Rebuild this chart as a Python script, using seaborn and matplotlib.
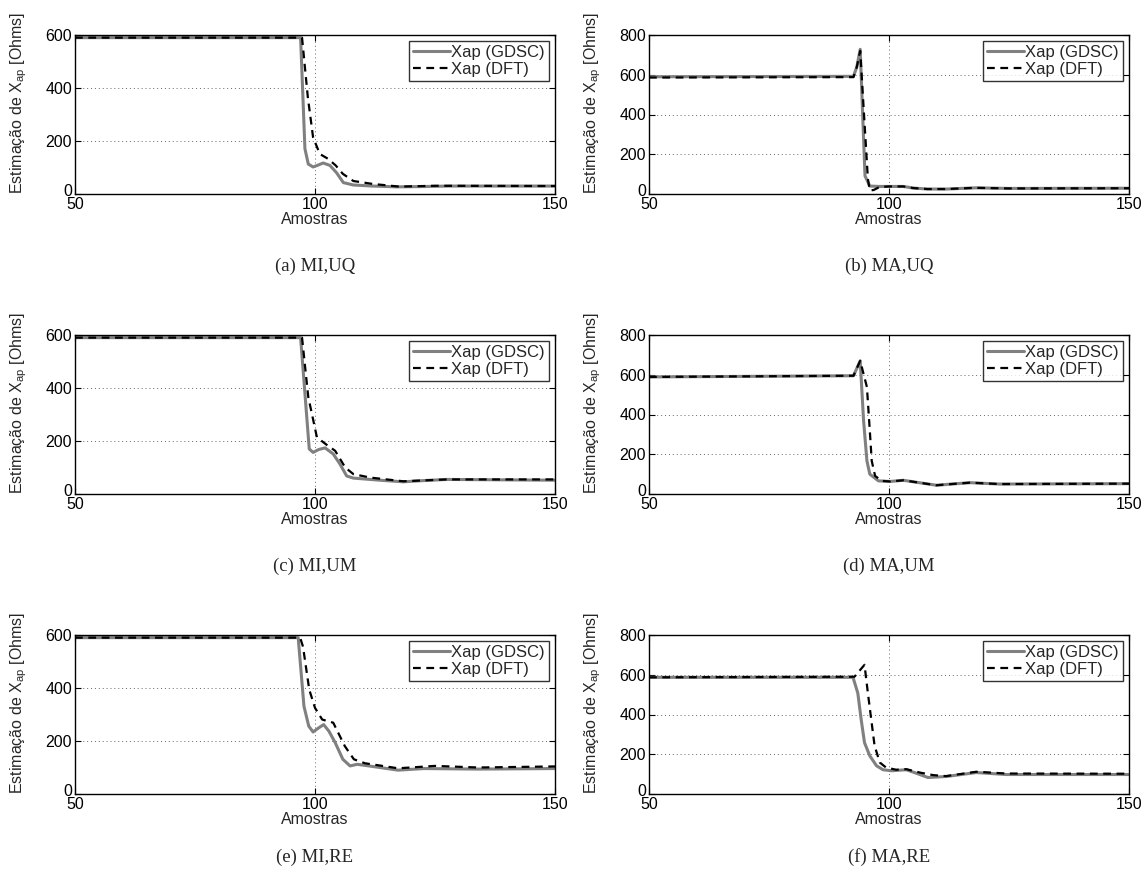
import matplotlib
matplotlib.use("Agg")
import matplotlib.pyplot as plt
import matplotlib.transforms as mtransforms
import seaborn as sns

# ---- data: estimated X_ap (Ohms) versus sample index ----
a_gdsc_x = [50, 97, 97.9, 98.6, 99.6, 100.5, 101.7, 103.1, 104.5, 105.9, 108, 112, 117, 122, 128, 150]
a_gdsc_y = [590, 590, 171, 113, 102, 108, 117, 108, 80, 43, 34, 30, 27, 28, 30, 30]
a_dft_x = [50, 97.3, 98.5, 99.6, 101, 102.7, 104.3, 105.8, 108, 112, 117.5, 125, 150]
a_dft_y = [590, 590, 366, 214, 151, 133, 108, 76, 49, 38, 28, 31, 30]

b_gdsc_x = [50, 92.6, 93.3, 94.0, 95.0, 96.0, 98, 100, 103, 105, 108, 112, 118, 125, 150]
b_gdsc_y = [590, 592, 640, 728, 91, 40, 38, 38, 38, 30, 25, 25, 31, 28, 29]
b_dft_x = [50, 92.6, 93.3, 94.0, 95.6, 96.0, 96.8, 98, 100, 103, 105, 108, 112, 118, 125, 150]
b_dft_y = [586, 588, 640, 720, 76, 18, 20, 35, 38, 38, 30, 25, 25, 31, 28, 29]

c_gdsc_x = [50, 97, 98.8, 99.6, 100.8, 102.1, 103.8, 105.2, 106.6, 108, 113.5, 118.4, 122, 127.5, 150]
c_gdsc_y = [590, 590, 170, 157, 168, 174, 151, 113, 68, 60, 52, 46, 50, 55, 52]
c_dft_x = [50, 97.3, 98.6, 100.4, 102.4, 104.2, 106.3, 108, 111.5, 118.4, 127.5, 150]
c_dft_y = [590, 590, 366, 214, 186, 163, 100, 75, 62, 48, 55, 55]

d_gdsc_x = [50, 92.6, 94.0, 94.7, 95.4, 96.0, 97.8, 100.2, 103, 106, 109.9, 113, 116.9, 123, 150]
d_gdsc_y = [589, 595, 670, 370, 167, 100, 66, 63, 69, 58, 44, 50, 57, 50, 52]
d_dft_x = [50, 92.6, 94.0, 95.4, 96.0, 96.4, 97.1, 98.5, 100.2, 103, 106, 109.9, 113, 116.9, 123, 150]
d_dft_y = [589, 595, 670, 538, 319, 167, 91, 66, 63, 69, 58, 44, 50, 57, 50, 52]

e_gdsc_x = [50, 96.5, 97.7, 98.7, 99.6, 100.8, 101.8, 102.9, 104.2, 105.8, 107.3, 108.8, 111.2, 117.3, 122.7, 134, 150]
e_gdsc_y = [590, 590, 331, 256, 234, 250, 262, 237, 194, 131, 106, 112, 106, 90, 96, 94, 96]
e_dft_x = [50, 96.9, 97.5, 98.8, 100, 101.5, 103.8, 106.2, 108.1, 110.4, 117.3, 125, 134, 150]
e_dft_y = [590, 590, 556, 394, 325, 281, 269, 181, 131, 116, 97, 106, 100, 104]

f_gdsc_x = [50, 92.5, 93.5, 94.2, 94.9, 96.0, 97.4, 98.75, 100.5, 103.6, 105.3, 108.1, 111.9, 118.2, 124.4, 150]
f_gdsc_y = [587, 587, 508, 375, 258, 192, 142, 122, 117, 122, 108, 83, 88, 108, 98, 98]
f_dft_x = [50, 92.8, 94.9, 95.6, 96.3, 97.0, 98.1, 99.4, 101.5, 103.6, 106.4, 109.2, 111.9, 118.2, 124.4, 150]
f_dft_y = [587, 590, 650, 508, 375, 242, 158, 133, 122, 125, 108, 95, 90, 112, 103, 102]

captions = ["(a) MI,UQ", "(b) MA,UQ", "(c) MI,UM", "(d) MA,UM", "(e) MI,RE", "(f) MA,RE"]
panels = [
    (a_gdsc_x, a_gdsc_y, a_dft_x, a_dft_y),
    (b_gdsc_x, b_gdsc_y, b_dft_x, b_dft_y),
    (c_gdsc_x, c_gdsc_y, c_dft_x, c_dft_y),
    (d_gdsc_x, d_gdsc_y, d_dft_x, d_dft_y),
    (e_gdsc_x, e_gdsc_y, e_dft_x, e_dft_y),
    (f_gdsc_x, f_gdsc_y, f_dft_x, f_dft_y),
]
y_max = [600, 800, 600, 800, 600, 800]
x_ticks = [50, 100, 150]
legend_labels = ["Xap (GDSC)", "Xap (DFT)"]

sns.set_theme(style="white")
plt.rcParams["font.family"] = ["Liberation Sans", "DejaVu Sans"]
plt.rcParams["mathtext.default"] = "regular"
plt.rcParams["xtick.direction"] = "in"
plt.rcParams["ytick.direction"] = "in"

W, H = 1147, 886
fig = plt.figure(figsize=(W / 100, H / 100), dpi=100)
fig.patch.set_facecolor("white")

col_left = [75, 649]
col_width = [480, 480]
row_top = [35, 335, 635]
ax_h = 159
caption_y = [266, 566, 857]
fs = 11.5

for i, (gx, gy, dx, dy) in enumerate(panels):
    r, c = divmod(i, 2)
    left = col_left[c] / W
    bottom = 1 - (row_top[r] + ax_h) / H
    ax = fig.add_axes([left, bottom, col_width[c] / W, ax_h / H])
    ax.set_facecolor("white")

    sns.lineplot(x=gx, y=gy, ax=ax, color="#808080", lw=2.2,
                 label=legend_labels[0], estimator=None, sort=False)
    sns.lineplot(x=dx, y=dy, ax=ax, color="black", lw=1.6, linestyle=(0, (3.5, 2.5)),
                 label=legend_labels[1], estimator=None, sort=False)

    ymax = y_max[i]
    ax.set_xlim(50, 150)
    ax.set_ylim(0, ymax)
    ax.set_xticks(x_ticks)
    ax.set_yticks(list(range(0, ymax + 1, 200)))
    ax.tick_params(axis="both", which="both", labelsize=fs, length=4, width=0.8,
                   top=True, right=True, bottom=True, left=True, pad=2, colors="black")
    ax.grid(True, linestyle=(0, (1, 3)), color="#666666", linewidth=0.7)
    for s in ax.spines.values():
        s.set_color("black")
        s.set_linewidth(1.0)

    # lift the "0" label slightly so it sits above the x tick labels
    zero_lbl = ax.get_yticklabels()[0]
    zero_lbl.set_transform(zero_lbl.get_transform() +
                           mtransforms.ScaledTranslation(0, 4 / 100, fig.dpi_scale_trans))

    ax.set_xlabel("Amostras", fontsize=fs, labelpad=0)
    ax.set_ylabel("Estimação de X$_{ap}$ [Ohms]", fontsize=fs, labelpad=3)
    ax.yaxis.set_label_coords(-0.095, 0.57)

    leg = ax.legend(loc="upper right", fontsize=12, frameon=True, fancybox=False,
                    handlelength=2.2, handletextpad=0.1, borderpad=0.25,
                    labelspacing=0.1, borderaxespad=0.35)
    leg.get_frame().set_edgecolor("black")
    leg.get_frame().set_linewidth(1.0)

    cx = (col_left[c] + col_width[c] / 2) / W
    fig.text(cx, 1 - caption_y[r] / H, captions[i], ha="center", va="center",
             fontsize=13.5, family=["Liberation Serif", "DejaVu Serif"])

fig.savefig("out.png", dpi=100, facecolor="white")
